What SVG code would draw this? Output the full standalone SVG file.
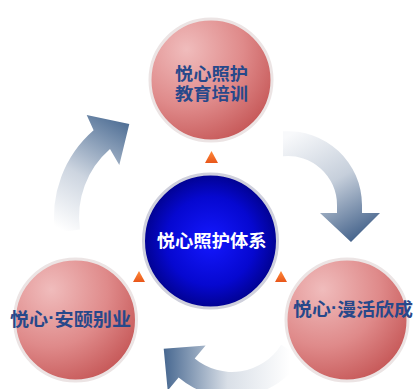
<svg xmlns="http://www.w3.org/2000/svg" width="415" height="389" viewBox="0 0 415 389">
<defs>
<radialGradient id="pink" cx="0.3" cy="0.25" r="0.85">
<stop offset="0" stop-color="#f0bcbc"/>
<stop offset="0.55" stop-color="#df8a8a"/>
<stop offset="1" stop-color="#c45454"/>
</radialGradient>
<radialGradient id="blue" cx="0.5" cy="0.5" r="0.55">
<stop offset="0" stop-color="#1418ff"/>
<stop offset="0.6" stop-color="#0608d0"/>
<stop offset="1" stop-color="#00007e"/>
</radialGradient>
<linearGradient id="gTL" gradientUnits="userSpaceOnUse" x1="65" y1="232" x2="128" y2="122">
<stop offset="0" stop-color="#ffffff"/>
<stop offset="0.45" stop-color="#cdd5e0"/>
<stop offset="1" stop-color="#4d6d94"/>
</linearGradient>
<linearGradient id="gTR" gradientUnits="userSpaceOnUse" x1="290" y1="135" x2="352" y2="242">
<stop offset="0" stop-color="#f8f9fb"/>
<stop offset="0.5" stop-color="#c6cfdb"/>
<stop offset="1" stop-color="#46648c"/>
</linearGradient>
<linearGradient id="gB" gradientUnits="userSpaceOnUse" x1="290" y1="355" x2="165" y2="355">
<stop offset="0" stop-color="#ffffff"/>
<stop offset="0.5" stop-color="#d9dfe7"/>
<stop offset="1" stop-color="#4a6a92"/>
</linearGradient>
<linearGradient id="tri" x1="0" y1="0" x2="0" y2="1">
<stop offset="0" stop-color="#ff8a3a"/>
<stop offset="1" stop-color="#e8561a"/>
</linearGradient>
</defs>
<style>
.pc{fill:url(#pink);stroke:#ece4e4;stroke-width:3}
.bc{fill:url(#blue);stroke:#cfd0dc;stroke-width:3}
.t{font-family:"Noto Sans CJK SC","Noto Sans",sans-serif;font-weight:bold;font-size:17px;text-anchor:middle;dominant-baseline:central}
.ts{text-anchor:start;font-size:18px}
.dot{font-family:"Liberation Sans",sans-serif}
.tb{fill:#27488a}
.tw{fill:#ffffff}
.tri{fill:url(#tri)}
</style>
<rect width="415" height="389" fill="#ffffff"/>
<g id="connectors">
<path d="M79.9,229.5 A90,90 0 0 1 110,149 L119.3,165 L129.3,124 L86.7,115 L93.6,130.2 A115,115 0 0 0 55.1,233 Z" fill="url(#gTL)"/>
<path d="M283,131.3 A74,74 0 0 1 362,205 L362,213 L380,213 L351,242 L320,213 L337,213 L337,205 A49,49 0 0 0 283,156.3 Z" fill="url(#gTR)"/>
<path d="M281.2,344.7 A58,58 0 0 1 194.7,358.4 L205.6,345.4 L163.7,348.7 L167.7,390.6 L178.6,377.6 A83,83 0 0 0 302.4,358 Z" fill="url(#gB)"/>
</g>
<g id="node-top">
<circle class="pc" cx="211" cy="80" r="61"/>
<text class="t tb" x="211.5" y="72" textLength="73" lengthAdjust="spacingAndGlyphs">悦心照护</text>
<text class="t tb" x="211.5" y="92" textLength="73" lengthAdjust="spacingAndGlyphs">教育培训</text>
</g>
<g id="node-left">
<circle class="pc" cx="75.5" cy="320" r="61"/>
<text class="t tb ts" x="10" y="318" textLength="121" lengthAdjust="spacingAndGlyphs">悦心<tspan class="dot">·</tspan>安颐别业</text>
</g>
<g id="node-right">
<circle class="pc" cx="347" cy="320" r="61"/>
<text class="t tb ts" x="293" y="308" textLength="120" lengthAdjust="spacingAndGlyphs">悦心<tspan class="dot">·</tspan>漫活欣成</text>
</g>
<g id="node-center">
<circle class="bc" cx="210.5" cy="241" r="67"/>
<text class="t tw" x="211.7" y="239" textLength="110" lengthAdjust="spacingAndGlyphs">悦心照护体系</text>
</g>
<g id="markers">
<polygon class="tri" points="211.5,151 218,163 205,163"/>
<polygon class="tri" points="139,271 145,282 133,282"/>
<polygon class="tri" points="281,271 287,282 275,282"/>
</g>
</svg>
